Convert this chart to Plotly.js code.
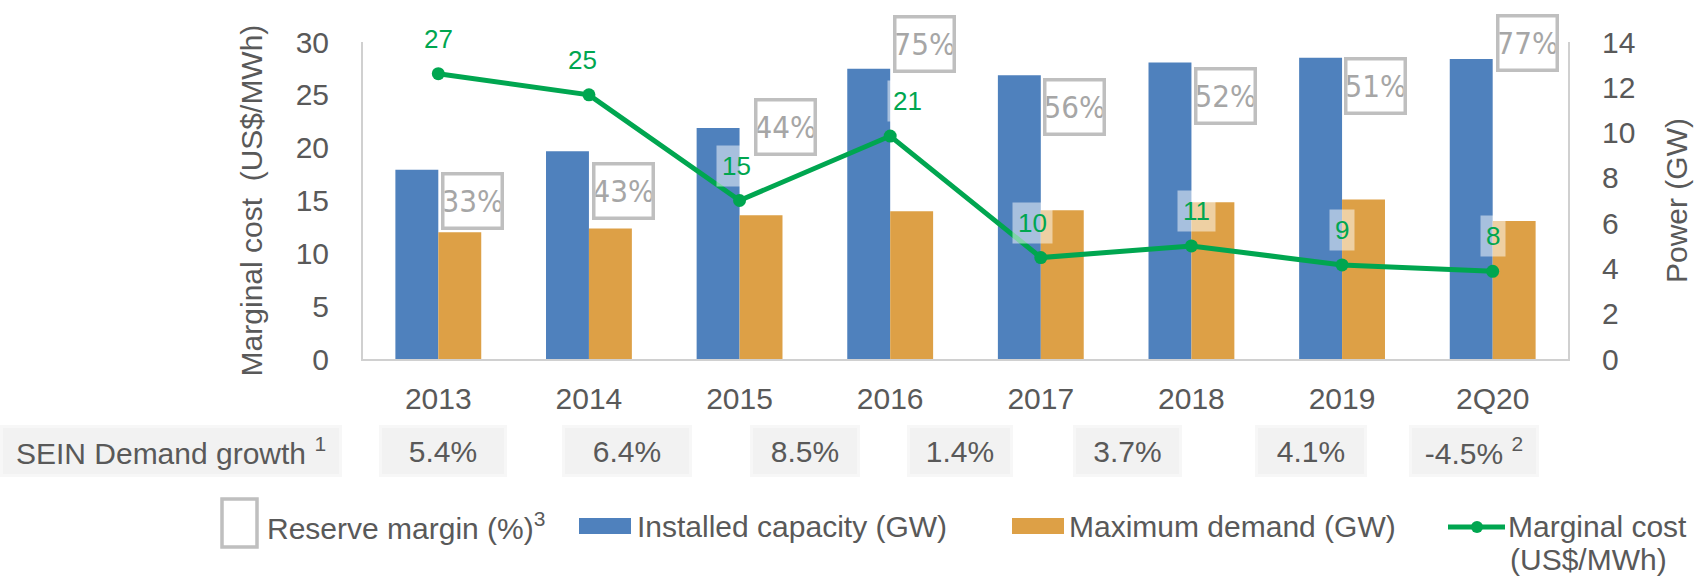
<!DOCTYPE html>
<html>
<head>
<meta charset="utf-8">
<script src="https://cdn.plot.ly/plotly-3.0.1.min.js"></script>
<style>
  html, body { margin: 0; padding: 0; background: #ffffff; }
  #chart { width: 1701px; height: 579px; }
</style>
</head>
<body>
<div id="chart"></div>
<script>
// ---------------- data ----------------
const categories = ['2013', '2014', '2015', '2016', '2017', '2018', '2019', '2Q20'];
const installedCapacity = [8.36, 9.17, 10.2, 12.82, 12.53, 13.1, 13.3, 13.25];   // GW
const maximumDemand = [5.6, 5.76, 6.35, 6.52, 6.57, 6.92, 7.04, 6.1];           // GW
const marginalCost = [27.0, 25.0, 15.0, 21.1, 9.6, 10.7, 8.9, 8.3];             // US$/MWh
const reserveMargin = [33, 43, 44, 75, 56, 52, 51, 77];                        // %
const demandGrowth = [5.4, 6.4, 8.5, 1.4, 3.7, 4.1, -4.5];                     // %
const demandGrowthNotes = ['', '', '', '', '', '', '2'];

// ---------------- styling / layout constants ----------------
const FONT = 'Liberation Sans, Arial, sans-serif';
const NARROW = 'Liberation Sans Narrow, Arial Narrow, DejaVu Sans Condensed, sans-serif';
const TXT = '#595959';
const BLUE = '#4F81BD', ORANGE = '#DDA046', GREEN = '#00A650', BOXGRAY = '#BFBFBF';
const L = 363, R = 1568, T = 42, B = 359;
const PW = R - L, PH = B - T;
const px = x => (x - L) / PW;
const py = y => (B - y) / PH;

// label nudges (pixels) for the reserve-margin boxes, as in the source layout
const reserveDx = [3, 3, 14, 3, 2, 3, 2, 3];
const reserveDy = [-2, -11, 30, 54, -3, -5, 1, 45];
const costDx = [0, -6, -3, 17, -8, 5, 0, 0];
// demand-growth boxes (pixel centres / widths)
const growthCx = [443, 627, 805, 960, 1127, 1311, 1474];
const growthW = [122, 124, 104, 100, 103, 106, 124];

const traces = [
  { type: 'bar', x: categories, y: installedCapacity, name: 'Installed capacity (GW)',
    marker: { color: BLUE, line: { width: 0 } }, xaxis: 'x', yaxis: 'y' },
  { type: 'bar', x: categories, y: maximumDemand, name: 'Maximum demand (GW)',
    marker: { color: ORANGE, line: { width: 0 } }, xaxis: 'x', yaxis: 'y' },
  { type: 'scatter', mode: 'lines+markers', x: categories, y: marginalCost,
    name: 'Marginal cost (US$/MWh)', xaxis: 'x', yaxis: 'y2',
    line: { color: GREEN, width: 5 }, marker: { color: GREEN, size: 13 }, cliponaxis: false }
];

const annotations = [];
// marginal cost labels (x given as category index)
categories.forEach((c, i) => {
  annotations.push({
    xref: 'x', yref: 'y2', x: i, y: marginalCost[i], xanchor: 'center', yanchor: 'middle',
    xshift: costDx[i], yshift: 35, showarrow: false,
    text: marginalCost[i].toFixed(0),
    font: { family: FONT, size: 26, color: GREEN },
    bgcolor: 'rgba(255,255,255,0.5)', borderpad: 5
  });
});
// reserve margin boxes
categories.forEach((c, i) => {
  annotations.push({
    xref: 'x', yref: 'y', x: i, y: installedCapacity[i], xanchor: 'left', yanchor: 'top',
    xshift: reserveDx[i], yshift: reserveDy[i], showarrow: false,
    text: reserveMargin[i] + '%',
    font: { family: NARROW, size: 31, color: '#A6A6A6' },
    bgcolor: '#FFFFFF', bordercolor: BOXGRAY, borderwidth: 3.5, borderpad: 0,
    width: 56, height: 51
  });
});
// demand growth row
annotations.push({
  xref: 'paper', yref: 'paper', x: px(0), y: py(451), xanchor: 'left', yanchor: 'middle',
  showarrow: false, align: 'center', text: 'SEIN Demand growth <sup>1</sup>',
  font: { family: FONT, size: 30, color: TXT },
  bgcolor: '#F2F2F2', bordercolor: '#F7F7F7', borderwidth: 3, borderpad: 0, width: 336, height: 46
});
demandGrowth.forEach((g, i) => {
  annotations.push({
    xref: 'paper', yref: 'paper', x: px(growthCx[i]), y: py(451), xanchor: 'center', yanchor: 'middle',
    showarrow: false,
    text: g.toFixed(1) + '%' + (demandGrowthNotes[i] ? ' <sup>' + demandGrowthNotes[i] + '</sup>' : ''),
    font: { family: FONT, size: 30, color: TXT },
    bgcolor: '#F2F2F2', bordercolor: '#F7F7F7', borderwidth: 3, borderpad: 0,
    width: growthW[i], height: 46
  });
});
// legend texts
const legendText = [
  { x: 265, y: 526, text: 'Reserve margin (%)<sup>3</sup>' },
  { x: 635, y: 526, text: traces[0].name },
  { x: 1067, y: 526, text: traces[1].name },
  { x: 1506, y: 526, text: 'Marginal cost' },
  { x: 1508, y: 559, text: '(US$/MWh)' }
];
legendText.forEach(o => annotations.push({
  xref: 'paper', yref: 'paper', x: px(o.x), y: py(o.y), xanchor: 'left', yanchor: 'middle',
  showarrow: false, text: o.text, font: { family: FONT, size: 30, color: TXT }
}));

const shapes = [
  { type: 'rect', xref: 'paper', yref: 'paper', x0: px(222), x1: px(257), y0: py(547), y1: py(499),
    line: { color: BOXGRAY, width: 3.5 }, fillcolor: '#FFFFFF' },
  { type: 'rect', xref: 'paper', yref: 'paper', x0: px(579), x1: px(631), y0: py(534), y1: py(518),
    line: { width: 0 }, fillcolor: BLUE },
  { type: 'rect', xref: 'paper', yref: 'paper', x0: px(1012), x1: px(1064), y0: py(534), y1: py(518),
    line: { width: 0 }, fillcolor: ORANGE },
  { type: 'line', xref: 'paper', yref: 'paper', x0: px(1448), x1: px(1505), y0: py(527), y1: py(527),
    line: { color: GREEN, width: 5 } },
  { type: 'circle', xref: 'paper', yref: 'paper', x0: px(1471), x1: px(1483), y0: py(533), y1: py(521),
    line: { width: 0 }, fillcolor: GREEN }
];

const layout = {
  width: 1701, height: 579,
  margin: { l: L, r: 1701 - R, t: T, b: 579 - B, pad: 0 },
  paper_bgcolor: '#FFFFFF', plot_bgcolor: '#FFFFFF',
  font: { family: FONT, size: 30, color: TXT },
  showlegend: false,
  barmode: 'group', bargap: 0.43, bargroupgap: 0,
  xaxis: {
    type: 'category', categoryorder: 'array', categoryarray: categories,
    range: [-0.5, categories.length - 0.5], autorange: false,
    showline: true, linecolor: '#D0D0D0', linewidth: 2,
    showgrid: false, zeroline: false, ticks: '', ticklabelstandoff: 12,
    tickfont: { family: FONT, size: 30, color: TXT }
  },
  yaxis: {
    side: 'right', range: [0, 14], autorange: false, dtick: 2, showline: true, linecolor: '#D0D0D0', linewidth: 2,
    showgrid: false, zeroline: false, ticks: '', ticklabelstandoff: 26,
    tickfont: { family: FONT, size: 30, color: TXT },
    title: { text: 'Power (GW)', font: { family: FONT, size: 30, color: TXT }, standoff: 32 }
  },
  yaxis2: {
    overlaying: 'y', side: 'left', range: [0, 30], autorange: false, dtick: 5, showline: true, linecolor: '#D0D0D0', linewidth: 2,
    showgrid: false, zeroline: false, ticks: '', ticklabelstandoff: 26,
    tickfont: { family: FONT, size: 30, color: TXT },
    title: { text: 'Marginal cost  (US$/MWh)', font: { family: FONT, size: 30, color: TXT }, standoff: 24 }
  },
  annotations: annotations,
  shapes: shapes
};

Plotly.newPlot('chart', traces, layout, { displayModeBar: false, staticPlot: true });
</script>
</body>
</html>
